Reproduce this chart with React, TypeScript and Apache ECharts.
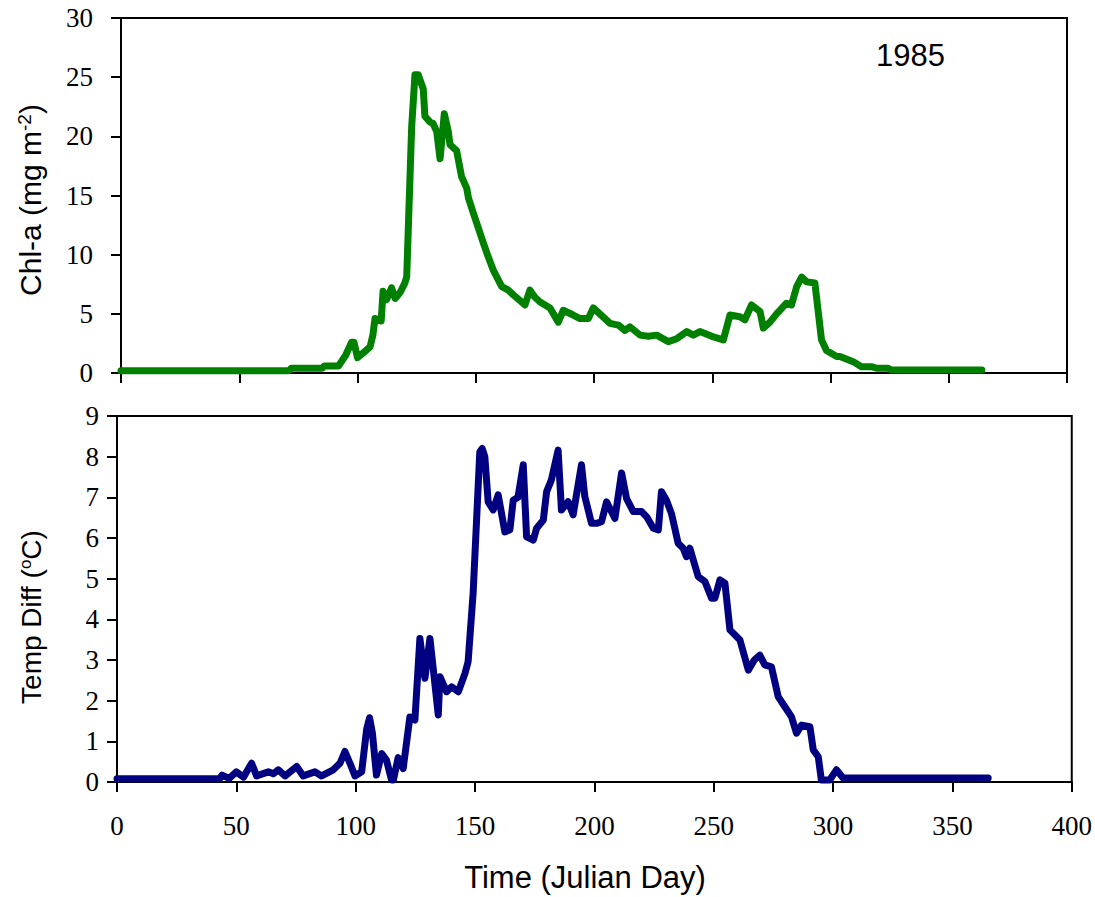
import React, { useEffect, useRef } from "react";
import * as echarts from "echarts";

// Top panel: Chl-a (mg m-2) vs Julian day
const chlDays = [0, 71, 72, 85, 86, 92, 95, 97.5, 98.5, 100, 103, 105.3, 106.5, 107.4, 110, 110.8, 112.3, 114.4, 115.9, 118, 120, 120.8, 122.9, 124.3, 125.7, 127.8, 128.5, 130.7, 131.9, 133.5, 134.9, 136.7, 138.4, 139.1, 141.9, 144, 146.2, 146.9, 149, 153.2, 155.3, 157.4, 161, 163.8, 165.9, 170.8, 172.9, 175, 177.2, 181.4, 184.9, 187, 191.2, 194.1, 197.6, 199.7, 206.8, 210.3, 213.1, 215.2, 219.5, 223, 226.5, 231.4, 235, 239.2, 242, 244.8, 249.8, 254.7, 257.5, 261.7, 263.8, 266.6, 270.2, 271.6, 274.4, 277.2, 281.4, 283.5, 285.7, 287.8, 289.9, 293.4, 296.2, 298.3, 302.6, 304, 309.6, 313.1, 317.3, 319.5, 324.4, 325.8, 364];
const chlValues = [0.2, 0.2, 0.4, 0.4, 0.6, 0.6, 1.5, 2.6, 2.6, 1.3, 1.8, 2.2, 3.2, 4.6, 4.4, 6.9, 6.2, 7.2, 6.3, 6.8, 7.6, 8.1, 20.8, 25.2, 25.2, 24, 21.7, 21.2, 21.1, 20.4, 18.1, 21.9, 20.4, 19.3, 18.8, 16.6, 15.6, 14.8, 13.5, 11.0, 9.8, 8.7, 7.3, 7.0, 6.6, 5.75, 7.0, 6.4, 6.0, 5.5, 4.3, 5.3, 4.9, 4.6, 4.6, 5.5, 4.2, 4.05, 3.6, 3.9, 3.2, 3.1, 3.2, 2.65, 2.9, 3.5, 3.2, 3.5, 3.1, 2.8, 4.9, 4.75, 4.5, 5.75, 5.2, 3.8, 4.3, 5.0, 5.9, 5.75, 7.3, 8.1, 7.7, 7.6, 2.8, 1.9, 1.4, 1.4, 0.96, 0.53, 0.53, 0.4, 0.4, 0.25, 0.25];

// Bottom panel: Temp Diff (oC) vs Julian day
const tempDays = [0, 43, 44, 47, 50, 53, 56.4, 58.5, 63.4, 65.5, 67.6, 70.4, 75.3, 78, 82.9, 85.7, 90.6, 93.4, 95.5, 97.6, 99.7, 102.5, 104.6, 105.8, 107, 108.7, 110.9, 112.9, 115, 115.8, 117.8, 119.9, 122.7, 124.8, 126.9, 129, 131.1, 134.6, 135.3, 138.1, 140.2, 143, 145.8, 147.1, 149.2, 152, 153, 154.1, 155.5, 157.6, 159.7, 162.5, 164.6, 166, 168, 170.2, 171.6, 174.4, 175.8, 178.6, 180, 182, 184.8, 186.2, 189, 191.1, 194.6, 196, 198.8, 200.9, 203, 205.1, 208.6, 211.4, 213.5, 216.3, 219.8, 221.9, 224.7, 226.8, 228.1, 230.2, 232.3, 235.1, 237.2, 238.6, 240, 243.5, 246.3, 249.1, 250.5, 252.6, 254.7, 256.8, 261, 264.5, 267, 269.3, 271.4, 274.2, 277, 279.8, 282.6, 284.7, 286.8, 290.3, 291.7, 293.8, 295.1, 298.6, 301.4, 304.2, 365];
const tempValues = [0.08, 0.08, 0.17, 0.09, 0.25, 0.12, 0.46, 0.15, 0.25, 0.2, 0.3, 0.15, 0.38, 0.15, 0.25, 0.15, 0.3, 0.46, 0.75, 0.46, 0.15, 0.25, 1.3, 1.58, 1.2, 0.17, 0.7, 0.54, 0.05, 0.05, 0.6, 0.33, 1.6, 1.52, 3.53, 2.55, 3.53, 1.65, 2.59, 2.22, 2.34, 2.22, 2.67, 2.96, 4.64, 8.12, 8.2, 8.0, 6.89, 6.69, 7.06, 6.15, 6.2, 6.93, 7.0, 7.8, 6.03, 5.95, 6.24, 6.44, 7.14, 7.43, 8.16, 6.69, 6.89, 6.57, 7.8, 7.02, 6.36, 6.36, 6.4, 6.89, 6.48, 7.6, 6.97, 6.65, 6.65, 6.52, 6.24, 6.2, 7.14, 6.93, 6.6, 5.87, 5.75, 5.54, 5.75, 5.05, 4.93, 4.52, 4.52, 4.97, 4.89, 3.74, 3.49, 2.75, 3.0, 3.12, 2.88, 2.83, 2.1, 1.85, 1.6, 1.2, 1.4, 1.36, 0.79, 0.62, 0.05, 0.05, 0.3, 0.1, 0.1];

const xMin = 0;
const xMax = 400;
const xInterval = 50;
const chlMax = 30;
const chlInterval = 5;
const tempMax = 9;
const tempInterval = 1;

const SERIF = '"Liberation Serif", "Times New Roman", serif';
const SANS = '"Liberation Sans", Arial, sans-serif';

function makeRich(size: number) {
  return {
    n: { fontFamily: SANS, fontSize: size, color: "#000", verticalAlign: "middle" },
    s: { fontFamily: SANS, fontSize: Math.round(size * 0.62), color: "#000", verticalAlign: "top" },
  };
}

export default function App() {
  const ref = useRef<HTMLDivElement>(null);
  useEffect(() => {
    const chart = echarts.init(ref.current!, null, { renderer: "svg" });
    const axisLine = { show: true, lineStyle: { color: "#000", width: 2 } };
    const axisTick = { show: true, inside: false, length: 10, lineStyle: { color: "#000", width: 2 } };
    const tickFont = { color: "#000", fontFamily: SERIF, fontSize: 27 };
    chart.setOption({
      animation: false,
      backgroundColor: "#fff",
      grid: [
        { left: 121, top: 18, width: 946, height: 355, show: true, borderColor: "#000", borderWidth: 2, backgroundColor: "transparent" },
        { left: 117, top: 416, width: 955, height: 366, show: true, borderColor: "#000", borderWidth: 2, backgroundColor: "transparent" },
      ],
      xAxis: [
        { gridIndex: 0, type: "value", min: xMin, max: xMax, interval: xInterval, axisLine, axisTick, axisLabel: { show: false }, splitLine: { show: false } },
        { gridIndex: 1, type: "value", min: xMin, max: xMax, interval: xInterval, axisLine, axisTick, axisLabel: { ...tickFont, margin: 30 }, splitLine: { show: false } },
      ],
      yAxis: [
        { gridIndex: 0, type: "value", min: 0, max: chlMax, interval: chlInterval, axisLine, axisTick, axisLabel: { ...tickFont, margin: 28 }, splitLine: { show: false } },
        { gridIndex: 1, type: "value", min: 0, max: tempMax, interval: tempInterval, axisLine, axisTick, axisLabel: { ...tickFont, margin: 18 }, splitLine: { show: false } },
      ],
      series: [
        {
          type: "line", xAxisIndex: 0, yAxisIndex: 0, symbol: "none", clip: false,
          data: chlDays.map((d, i) => [d, chlValues[i]]),
          lineStyle: { color: "#008000", width: 7, cap: "round", join: "round" },
        },
        {
          type: "line", xAxisIndex: 1, yAxisIndex: 1, symbol: "none", clip: false,
          data: tempDays.map((d, i) => [d, tempValues[i]]),
          lineStyle: { color: "#000080", width: 7, cap: "round", join: "round" },
        },
      ],
      graphic: [
        { type: "text", x: 876, y: 55, style: { text: "1985", fontFamily: SANS, fontSize: 31, fill: "#000", verticalAlign: "middle", align: "left" } },
        { type: "text", x: 30, y: 200, rotation: Math.PI / 2, style: { text: "{n|Chl-a (mg m}{s|-2}{n|)}", rich: makeRich(30), align: "center", verticalAlign: "middle" } },
        { type: "text", x: 31, y: 617, rotation: Math.PI / 2, style: { text: "{n|Temp Diff (}{s|o}{n|C)}", rich: makeRich(28), align: "center", verticalAlign: "middle" } },
        { type: "text", x: 585, y: 877, style: { text: "Time (Julian Day)", fontFamily: SANS, fontSize: 31, fill: "#000", align: "center", verticalAlign: "middle" } },
      ],
    });
    return () => chart.dispose();
  }, []);
  return <div ref={ref} style={{ position: "absolute", left: 0, top: 0, width: 1095, height: 897, background: "#fff" }} />;
}
